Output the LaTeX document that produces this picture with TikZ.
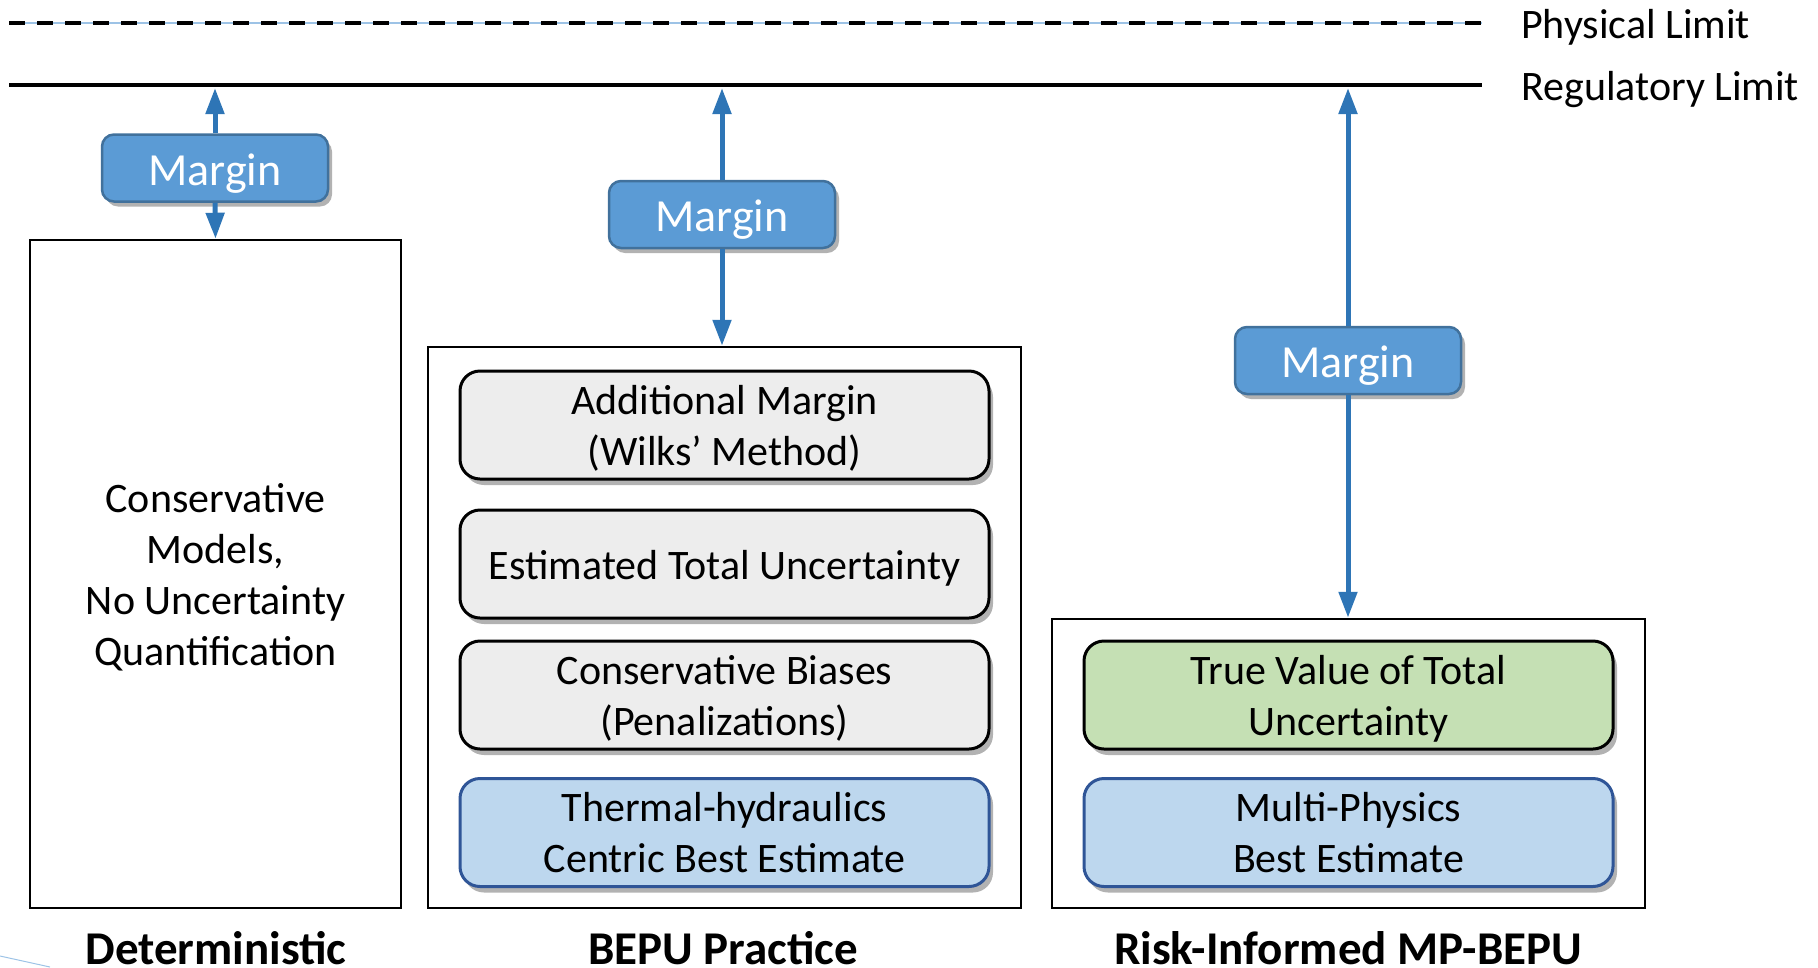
\documentclass[tikz,border=0pt]{standalone}
\usepackage{fontspec}
\setmainfont{Carlito}
\usetikzlibrary{arrows.meta,shadows}
\definecolor{mfill}{HTML}{5B9BD5}
\definecolor{mdraw}{HTML}{41719C}
\definecolor{arr}{HTML}{2E75B6}
\definecolor{gfill}{HTML}{EDEDED}
\definecolor{bfill}{HTML}{BDD7EE}
\definecolor{bdraw}{HTML}{2F5597}
\definecolor{grfill}{HTML}{C5E0B4}
\definecolor{lblue}{HTML}{9DC3E6}
\tikzset{
  outerbox/.style={draw=black, line width=2.5pt, minimum width=593pt, fill=white},
  marginbox/.style={draw=mdraw, line width=2.5pt, fill=mfill, rounded corners=12pt,
    minimum width=226pt, minimum height=67pt, text=white, inner sep=0pt,
    text height=43pt, text depth=9pt,
    font=\fontsize{46}{55}\selectfont,
    drop shadow={shadow xshift=4pt, shadow yshift=-5pt, opacity=0.3, fill=black}},
  innerbox/.style={line width=3pt, rounded corners=20pt, minimum width=529pt,
    minimum height=108pt, inner sep=0pt, align=center,
    font=\fontsize{42}{51}\selectfont,
    drop shadow={shadow xshift=4pt, shadow yshift=-6pt, opacity=0.3, fill=black}},
  twoline/.style={text height=90pt, text depth=10pt},
  oneline/.style={text height=40pt, text depth=10pt},
  greybox/.style={innerbox, draw=black, fill=gfill},
  bluebox/.style={innerbox, draw=bdraw, fill=bfill},
  greenbox/.style={innerbox, draw=black, fill=grfill},
  limitlbl/.style={anchor=west, inner sep=0pt, font=\fontsize{42}{51}\selectfont},
  collbl/.style={inner sep=0pt, font=\bfseries\fontsize{47}{56}\selectfont},
  marrow/.style={draw=arr, line width=5pt, -{Triangle[length=26pt,width=18pt]}},
}
\begin{document}
\begin{tikzpicture}[x=1pt,y=-1pt]
\useasboundingbox (0,0) rectangle (1818,967);
% faint decoration bottom-left
\draw[lblue, line width=1pt] (0,956) -- (50,967);
% limit lines
\coordinate (pl0) at (9,23);
\coordinate (pl1) at (1482,23);
\coordinate (rl0) at (9,85);
\coordinate (rl1) at (1482,85);
\draw[lblue, line width=1.5pt] (pl0) -- (pl1);
\draw[black, line width=4.5pt, dash pattern=on 16pt off 12pt] (pl0) -- (pl1);
\draw[black, line width=4pt] (rl0) -- (rl1);
\node[limitlbl] (pltext) at (1521,27) {Physical Limit};
\node[limitlbl] (rltext) at (1521,90) {Regulatory Limit};
\coordinate (r1) at (215,88);
\coordinate (r2) at (722,88);
\coordinate (r3) at (1348,88);

% Deterministic column
\node[draw=black, line width=2.5pt, minimum width=371pt, minimum height=668pt, inner sep=0pt,
  text height=192pt, text depth=10pt,
  align=center, font=\fontsize{42}{51}\selectfont] (det) at (215.5,574)
  {Conservative\\Models,\\No Uncertainty\\Quantification};
\node[marginbox] (m1) at (215,168) {Margin};
\draw[marrow] (m1.north) -- (r1);
\draw[marrow] (m1.south) -- (det.north);
\node[collbl] (l1) at (216,948) {Deterministic};

% BEPU column
\node[outerbox, minimum height=561pt] (bepu) at (724.5,627.5) {};
\node[marginbox] (m2) at (722,214.5) {Margin};
\draw[marrow] (m2.north) -- (r2);
\draw[marrow] (m2.south) -- (bepu.north -| m2.south);
\node[greybox, twoline] (am) at (724.5,425) {Additional Margin\\(Wilks’ Method)};
\node[greybox, oneline] (etu) at (724.5,564) {Estimated Total Uncertainty};
\node[greybox, twoline] (cb) at (724.5,695) {Conservative Biases\\(Penalizations)};
\node[bluebox, twoline] (th) at (724.5,832.5) {Thermal-hydraulics\\Centric Best Estimate};
\node[collbl] (l2) at (723,948) {BEPU Practice};

% Risk-informed column
\node[outerbox, minimum height=289pt] (risk) at (1348.5,763.5) {};
\node[marginbox] (m3) at (1348,360.5) {Margin};
\draw[marrow] (m3.north) -- (r3);
\draw[marrow] (m3.south) -- (risk.north -| m3.south);
\node[greenbox, twoline] (tv) at (1348.5,695) {True Value of Total\\Uncertainty};
\node[bluebox, twoline] (mp) at (1348.5,832.5) {Multi-Physics\\Best Estimate};
\node[collbl] (l3) at (1348,948) {Risk-Informed MP-BEPU};
\end{tikzpicture}
\end{document}
